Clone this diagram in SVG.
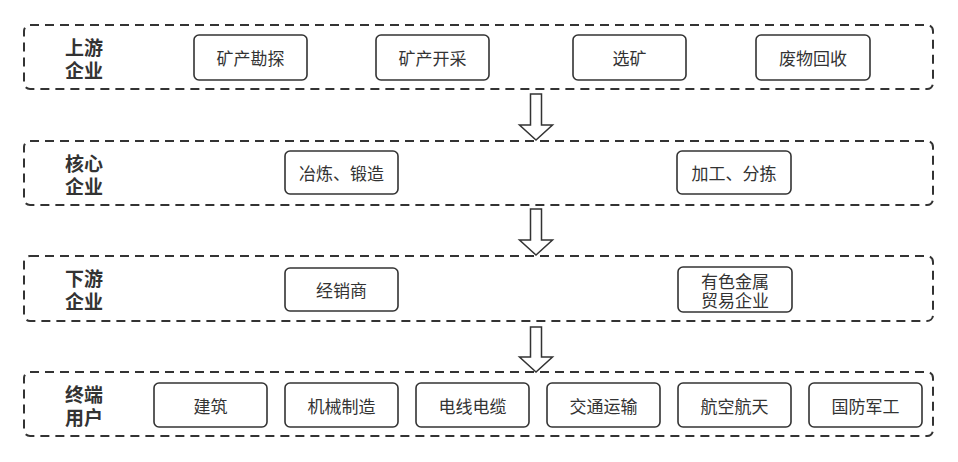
<svg xmlns="http://www.w3.org/2000/svg" width="958" height="462" viewBox="0 0 958 462">
<style>
.layer{fill:none;stroke:#333;stroke-width:2;stroke-dasharray:9 6}
.box{fill:#fff;stroke:#333;stroke-width:1.6}
.lbl{font-family:"Noto Sans CJK SC","Noto Sans",sans-serif;font-size:19px;font-weight:bold;fill:#333;text-anchor:middle;dominant-baseline:central}
.t{font-family:"Noto Sans CJK SC","Noto Sans",sans-serif;font-size:17px;fill:#333;text-anchor:middle;dominant-baseline:central}
.arr{fill:#fff;stroke:#333;stroke-width:1.5;stroke-linejoin:miter}
</style>
<rect width="958" height="462" fill="#fff"/>
<g id="layer-upstream">
<rect class="layer" x="24" y="25" width="909" height="64" rx="6"/>
<text class="lbl" x="84" y="46">上游</text>
<text class="lbl" x="84" y="69">企业</text>
</g>
<g id="n-kckt"><rect class="box" x="194" y="35" width="113" height="45" rx="5"/><text class="t" x="250.5" y="57.5">矿产勘探</text></g>
<g id="n-kckc"><rect class="box" x="376" y="35" width="113" height="45" rx="5"/><text class="t" x="432.5" y="57.5">矿产开采</text></g>
<g id="n-xk"><rect class="box" x="573" y="35" width="113" height="45" rx="5"/><text class="t" x="629.5" y="57.5">选矿</text></g>
<g id="n-fwhs"><rect class="box" x="756" y="35" width="114" height="45" rx="5"/><text class="t" x="813" y="57.5">废物回收</text></g>

<g id="layer-core">
<rect class="layer" x="24" y="141" width="909" height="64" rx="6"/>
<text class="lbl" x="84" y="162">核心</text>
<text class="lbl" x="84" y="185">企业</text>
</g>
<g id="n-yl"><rect class="box" x="285" y="151" width="113" height="43" rx="5"/><text class="t" x="341.5" y="172.5">冶炼、锻造</text></g>
<g id="n-jg"><rect class="box" x="677" y="151" width="114" height="43" rx="5"/><text class="t" x="734" y="172.5">加工、分拣</text></g>

<g id="layer-downstream">
<rect class="layer" x="24" y="256" width="909" height="65" rx="6"/>
<text class="lbl" x="84" y="277">下游</text>
<text class="lbl" x="84" y="300">企业</text>
</g>
<g id="n-jxs"><rect class="box" x="285" y="268" width="113" height="43" rx="5"/><text class="t" x="341.5" y="289.5">经销商</text></g>
<g id="n-ysjs"><rect class="box" x="678" y="267" width="114" height="45" rx="5"/><text class="t" x="735" y="280">有色金属</text><text class="t" x="735" y="299">贸易企业</text></g>

<g id="layer-end">
<rect class="layer" x="24" y="372" width="909" height="64" rx="6"/>
<text class="lbl" x="84" y="393">终端</text>
<text class="lbl" x="84" y="416">用户</text>
</g>
<g id="n-jz"><rect class="box" x="154" y="383" width="113" height="44" rx="5"/><text class="t" x="210.5" y="405">建筑</text></g>
<g id="n-jxzz"><rect class="box" x="285" y="383" width="113" height="44" rx="5"/><text class="t" x="341.5" y="405">机械制造</text></g>
<g id="n-dxdl"><rect class="box" x="416" y="383" width="113" height="44" rx="5"/><text class="t" x="472.5" y="405">电线电缆</text></g>
<g id="n-jtys"><rect class="box" x="547" y="383" width="113" height="44" rx="5"/><text class="t" x="603.5" y="405">交通运输</text></g>
<g id="n-hkht"><rect class="box" x="678" y="383" width="113" height="44" rx="5"/><text class="t" x="734.5" y="405">航空航天</text></g>
<g id="n-gfjg"><rect class="box" x="809" y="383" width="113" height="44" rx="5"/><text class="t" x="865.5" y="405">国防军工</text></g>

<g id="connectors">
<path class="arr" d="M530.5,94 H541.5 V125 H552.5 L536,140 L519.5,125 H530.5 Z"/>
<path class="arr" d="M530.5,209 H541.5 V240 H552.5 L536,255 L519.5,240 H530.5 Z"/>
<path class="arr" d="M530.5,327 H541.5 V357 H552.5 L536,372 L519.5,357 H530.5 Z"/>
</g>
</svg>
